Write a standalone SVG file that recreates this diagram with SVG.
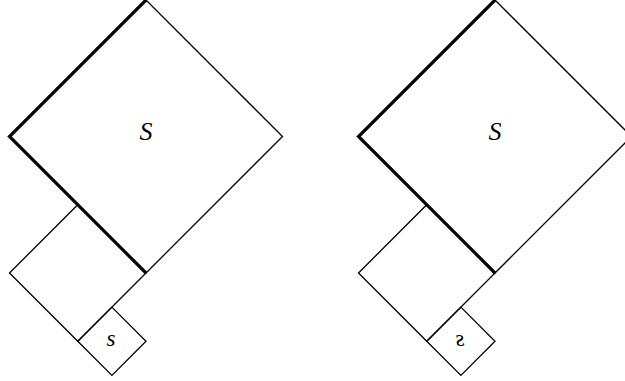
<svg xmlns="http://www.w3.org/2000/svg" width="625" height="381" viewBox="0 0 625 381">
<style>
.sq{fill:none;stroke:#000;stroke-width:1.3;stroke-linejoin:miter}
.thick{fill:none;stroke:#000;stroke-width:3.2;stroke-linejoin:miter}
.lbl{font-family:"Liberation Serif","DejaVu Serif",serif;font-style:italic;fill:#000;text-anchor:middle}
.big{font-size:26px}
.small{font-size:23px}
</style>
<rect width="625" height="381" fill="#fff"/>
<g id="left-figure">
  <g id="big-square-left">
    <polygon class="sq" points="146,0 282.5,136.5 146,273 9.5,136.5"/>
    <polyline class="thick" points="146,0 9.5,136.5 146,273"/>
    <text class="lbl big" x="146" y="140">S</text>
  </g>
  <g id="medium-square-left">
    <polygon class="sq" points="77.75,204.75 146,273 77.75,341.25 9.5,273"/>
  </g>
  <g id="small-square-left">
    <polygon class="sq" points="111.9,307.1 146,341.25 111.9,375.4 77.75,341.25"/>
    <text class="lbl small" x="111" y="346">s</text>
  </g>
</g>
<g id="right-figure" transform="translate(349,0)">
  <g id="big-square-right">
    <polygon class="sq" points="146,0 282.5,136.5 146,273 9.5,136.5"/>
    <polyline class="thick" points="146,0 9.5,136.5 146,273"/>
    <text class="lbl big" x="146" y="140">S</text>
  </g>
  <g id="medium-square-right">
    <polygon class="sq" points="77.75,204.75 146,273 77.75,341.25 9.5,273"/>
  </g>
  <g id="small-square-right">
    <polygon class="sq" points="111.9,307.1 146,341.25 111.9,375.4 77.75,341.25"/>
    <text class="lbl small" transform="translate(111,346) scale(-1,1)" x="0" y="0">s</text>
  </g>
</g>
</svg>
